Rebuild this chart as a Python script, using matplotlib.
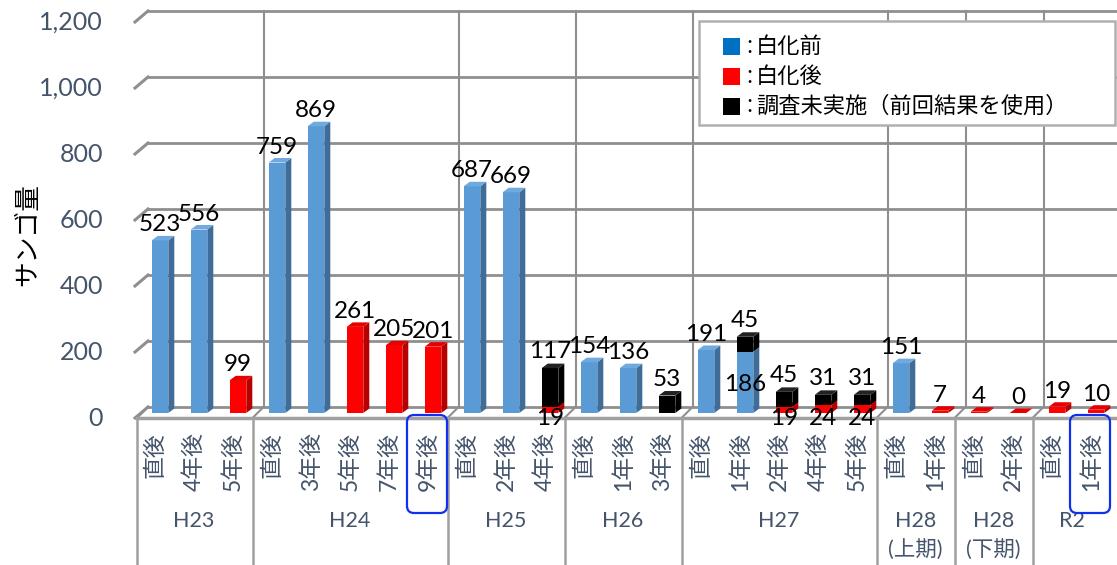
import matplotlib
matplotlib.use("Agg")
import matplotlib.pyplot as plt
from matplotlib.patches import Polygon, Rectangle, FancyBboxPatch

plt.rcParams['font.family'] = ['Lato', 'Noto Sans CJK JP']

# ---- data ---------------------------------------------------------------
groups = ["H23", "H24", "H25", "H26", "H27", "H28\n(上期)", "H28\n(下期)", "R2"]
periods = [
    ["直後", "4年後", "5年後"],
    ["直後", "3年後", "5年後", "7年後", "9年後"],
    ["直後", "2年後", "4年後"],
    ["直後", "1年後", "3年後"],
    ["直後", "1年後", "2年後", "4年後", "5年後"],
    ["直後", "1年後"],
    ["直後", "2年後"],
    ["直後", "1年後"],
]
# coral amount before bleaching / after bleaching / not surveyed (previous result reused)
before = [523, 556, None, 759, 869, None, None, None, 687, 669, None, 154, 136, None,
          191, 186, None, None, None, 151, None, None, None, None, None]
after = [None, None, 99, None, None, 261, 205, 201, None, None, 19, None, None, None,
         None, None, 19, 24, 24, None, 7, 4, 0, 19, 10]
unsurveyed = [None, None, None, None, None, None, None, None, None, None, 117, None, None, 53,
              None, 45, 45, 31, 31, None, None, None, None, None, None]
y_ticks = [0, 200, 400, 600, 800, 1000, 1200]
highlighted = [7, 24]
legend_labels = ["白化前", "白化後", "調査未実施（前回結果を使用）"]

# ---- layout (pixels of a 1117x565 canvas) -------------------------------
W, H = 1117, 565
X0, Y0 = 155.0, 418.0   # first category centre / front floor edge
SX, SY = 39.0, 0.33     # px per category, px per unit


def dx(p):
    return p / SX


def dy(p):
    return p / SY


def px(x):
    return (x - X0) / SX


def py(y):
    return (Y0 - y) / SY


BACK = (dx(11), dy(11))       # back wall offset
BAR_OFF = (dx(5), dy(5))      # bar plane offset
DEPTH = (dx(6), dy(4.5))      # bar depth
BAR_W = dx(16.6)
LEFT = px(137)
GRID = '#8f8f8f'
AXC = '#a0a0a0'
TXT = '#44546A'

colors = {
    'blue': ('#5B9BD5', '#3E6D99', '#6FA9DE'),
    'red': ('#FF0000', '#B80000', '#E80000'),
    'black': ('#000000', '#000000', '#222222'),
}

fig = plt.figure(figsize=(W / 100, H / 100), dpi=100)
ax = fig.add_axes([0, 0, 1, 1])
ax.set_xlim(px(0), px(W))
ax.set_ylim(py(H), py(0))
ax.axis('off')

n = sum(len(p) for p in periods)
counts = [len(p) for p in periods]
seps = []
acc = 0
for c in counts[:-1]:
    acc += c
    seps.append(acc - 0.5)
right = px(W) + 1

# back wall + side wall grid
for v in y_ticks:
    ax.plot([LEFT + BACK[0], right], [v + BACK[1]] * 2, color=GRID, lw=2, zorder=1)
    ax.plot([LEFT - dx(2), LEFT + BACK[0]], [v, v + BACK[1]], color=GRID, lw=2.2, zorder=1)
for s in seps:
    ax.plot([s + BACK[0]] * 2, [BACK[1], y_ticks[-1] + BACK[1]], color=GRID, lw=1.5, zorder=1)

# floor
ax.plot([LEFT, right], [0, 0], color=AXC, lw=2.5, zorder=2)
for s in [LEFT] + seps:
    ax.plot([s, s + BACK[0]], [0, BACK[1]], color=GRID, lw=1.5, zorder=1)

# category box below the floor
for s in [LEFT] + seps:
    ax.plot([s, s], [0, py(H)], color=AXC, lw=1.8, zorder=2)


def bar3d(i, base, val, key):
    front, side, top = colors[key]
    x = i + BAR_OFF[0]
    yb = BAR_OFF[1] + base
    yt = yb + val
    xl, xr = x - BAR_W / 2, x + BAR_W / 2
    ax.bar(x, val, width=BAR_W, bottom=yb, color=front, lw=0, zorder=3)
    ax.add_patch(Polygon([(xr, yb), (xr + DEPTH[0], yb + DEPTH[1]),
                          (xr + DEPTH[0], yt + DEPTH[1]), (xr, yt)],
                         closed=True, fc=side, ec='none', zorder=3))
    ax.add_patch(Polygon([(xl, yt), (xr, yt), (xr + DEPTH[0], yt + DEPTH[1]),
                          (xl + DEPTH[0], yt + DEPTH[1])],
                         closed=True, fc=top, ec='none', zorder=3))
    return x, yb, yt


lab_kw = dict(fontsize=17.5, color='black', ha='center', zorder=5,
              textcoords='offset pixels')
for i in range(n):
    base = 0
    x = i + BAR_OFF[0]
    bottom_val, bottom_key = None, None
    if before[i] is not None:
        bottom_val, bottom_key = before[i], 'blue'
    elif after[i] is not None:
        bottom_val, bottom_key = after[i], 'red'
    if bottom_val is not None:
        _, yb, yt = bar3d(i, 0, bottom_val, bottom_key)
        base = bottom_val
    if unsurveyed[i] is not None:
        _, _, yt2 = bar3d(i, base, unsurveyed[i], 'black')
        ax.annotate(str(unsurveyed[i]), (x, yt2), xytext=(0, 6), va='bottom', **lab_kw)
        if bottom_key == 'blue':
            ax.annotate(str(bottom_val), (x, (yb + yt) / 2), xytext=(0, -2),
                        va='center', **lab_kw)
        elif bottom_key == 'red':
            ax.annotate(str(bottom_val), (x, BAR_OFF[1]), xytext=(0, 5), va='top', **lab_kw)
    elif bottom_val is not None:
        ax.annotate(str(bottom_val), (x, yt), xytext=(0, 5), va='bottom', **lab_kw)

# y tick labels on the front plane
for v in y_ticks:
    ax.text(px(103), v, f"{v:,}", ha='right', va='center', fontsize=18, color=TXT)
ax.text(px(28), py(235), "サンゴ量", rotation=90, ha='center', va='center',
        fontsize=18.5, color='black', family='Noto Sans CJK JP')

# category labels
i = 0
for g, plist in zip(groups, periods):
    start = i
    for lab in plist:
        ax.annotate(lab, (i, 0), xytext=(0, -14), textcoords='offset pixels',
                    rotation=90, ha='center', va='top', fontsize=16.5, color=TXT)
        i += 1
    cx = (start + i - 1) / 2
    lines = g.split("\n")
    ax.annotate(lines[0], (cx, 0), xytext=(0, -103), textcoords='offset pixels',
                ha='center', va='center', fontsize=15.5, color=TXT)
    if len(lines) > 1:
        ax.annotate(lines[1], (cx, 0), xytext=(0, -132), textcoords='offset pixels',
                    ha='center', va='center', fontsize=15.5, color=TXT)

# highlight boxes
for k in highlighted:
    ax.add_patch(FancyBboxPatch((k - dx(21), py(513)), dx(40), dy(98),
                                boxstyle="round,pad=0,rounding_size=0.18",
                                mutation_aspect=SX / SY, fc='none', ec='#1030F0',
                                lw=1.6, zorder=6))

# legend box
ax.add_patch(Rectangle((px(699), py(125)), dx(416), dy(104), fc='white',
                       ec='#b0b0b0', lw=1.8, zorder=7))
for lab, c, yy in zip(legend_labels, ['#0070C0', '#FF0000', '#000000'], [46.5, 76.5, 106]):
    ax.add_patch(Rectangle((px(723), py(yy + 8.5)), dx(17), dy(17), fc=c, ec='none', zorder=8))
    ax.text(px(746), py(yy), ":", ha='left', va='center', fontsize=16,
            color='black', family='Noto Sans CJK JP', zorder=8)
    ax.text(px(756), py(yy), lab, ha='left', va='center', fontsize=16,
            color='black', family='Noto Sans CJK JP', zorder=8)

fig.savefig("out.png", dpi=100)
